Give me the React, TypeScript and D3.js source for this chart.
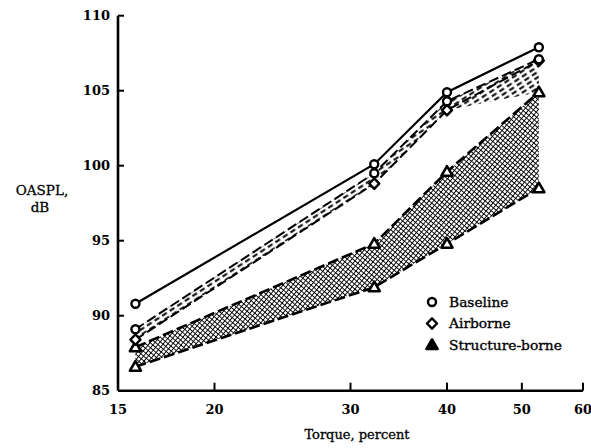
import React from "react";
import * as d3 from "d3";

// Torque, percent (log axis)
const torque = [15.8, 32.2, 40, 52.6];
// OASPL, dB
const baseline = [90.8, 100.1, 104.9, 107.9];
const baselineTreated = [89.1, 99.5, 104.3, 107.1];
const airborne = [88.4, 98.8, 103.7, 107.0];
const structureHigh = [87.9, 94.8, 99.6, 104.9];
const structureLow = [86.6, 91.9, 94.8, 98.5];

const xTicks = [15, 20, 30, 40, 50, 60];
const yTicks = [85, 90, 95, 100, 105, 110];
const legendItems = [
  { label: "Baseline", shape: "circle" },
  { label: "Airborne", shape: "diamond" },
  { label: "Structure-borne", shape: "triangle" },
];

const W = 591;
const H = 448;
const FONT = "'DejaVu Serif', 'Liberation Serif', serif";

function Marker({ shape, cx, cy, filled }: { shape: string; cx: number; cy: number; filled?: boolean }) {
  if (shape === "circle")
    return <circle cx={cx} cy={cy} r={4} fill="#fff" stroke="#000" strokeWidth={2.4} />;
  if (shape === "diamond")
    return (
      <path
        d={`M${cx},${cy - 5.2}L${cx + 5},${cy}L${cx},${cy + 5.2}L${cx - 5},${cy}Z`}
        fill="#fff"
        stroke="#000"
        strokeWidth={2.4}
        strokeLinejoin="round"
      />
    );
  return (
    <path
      d={`M${cx},${cy - 5.5}L${cx + 5.5},${cy + 4}L${cx - 5.5},${cy + 4}Z`}
      fill={filled ? "#000" : "#fff"}
      stroke="#000"
      strokeWidth={2.6}
      strokeLinejoin="round"
    />
  );
}

export default function App() {
  const x = d3.scaleLog().domain([15, 60]).range([118, 583]);
  const y = d3.scaleLinear().domain([85, 110]).range([390.7, 15.7]);

  const line = (vals: number[]) =>
    d3
      .line<number>()
      .x((_, i) => x(torque[i]))
      .y((v) => y(v))(vals) as string;

  const band = (upper: number[], lower: number[]) =>
    d3
      .area<number>()
      .x((_, i) => x(torque[i]))
      .y0((_, i) => y(lower[i]))
      .y1((v) => y(v))(upper) as string;

  const upperLower = [airborne[0], airborne[1], airborne[2], structureHigh[3]];

  const xAxisY = y(85);
  const yAxisX = x(15);

  return (
    <svg
      width={W}
      height={H}
      style={{ position: "absolute", left: 0, top: 0, background: "#fff" }}
      fontFamily={FONT}
    >
      <defs>
        <pattern id="cross" width={3.6} height={3.6} patternUnits="userSpaceOnUse" patternTransform="rotate(40)">
          <rect width={3.6} height={3.6} fill="#fff" />
          <rect x={0} y={0} width={3.6} height={0.9} fill="#000" />
          <rect x={0} y={0} width={0.9} height={3.6} fill="#000" />
        </pattern>
        <pattern id="dashes" width={9} height={4.5} patternUnits="userSpaceOnUse" patternTransform="rotate(-33)">
          <rect width={9} height={4.5} fill="#fff" />
          <rect x={0} y={1.2} width={5.5} height={2} fill="#000" />
        </pattern>
      </defs>

      {/* hatched bands */}
      <path d={band(baselineTreated, upperLower)} fill="url(#dashes)" />
      <path d={band(structureHigh, structureLow)} fill="url(#cross)" />

      {/* lines */}
      <path d={line(baseline)} fill="none" stroke="#000" strokeWidth={2.2} />
      <path d={line(baselineTreated)} fill="none" stroke="#000" strokeWidth={2} strokeDasharray="10 4" />
      <path d={line(airborne)} fill="none" stroke="#000" strokeWidth={2} strokeDasharray="10 4" />
      <path d={line(structureHigh)} fill="none" stroke="#000" strokeWidth={2.6} strokeDasharray="11 4" />
      <path d={line(structureLow)} fill="none" stroke="#000" strokeWidth={2.6} strokeDasharray="11 4" />

      {/* markers */}
      {structureLow.map((v, i) => (
        <Marker key={"sl" + i} shape="triangle" cx={x(torque[i])} cy={y(v)} />
      ))}
      {structureHigh.map((v, i) => (
        <Marker key={"sh" + i} shape="triangle" cx={x(torque[i])} cy={y(v)} />
      ))}
      {airborne.map((v, i) => (
        <Marker key={"a" + i} shape="diamond" cx={x(torque[i])} cy={y(v)} />
      ))}
      {baselineTreated.map((v, i) => (
        <Marker key={"bt" + i} shape="circle" cx={x(torque[i])} cy={y(v)} />
      ))}
      {baseline.map((v, i) => (
        <Marker key={"b" + i} shape="circle" cx={x(torque[i])} cy={y(v)} />
      ))}

      {/* axes */}
      <line x1={yAxisX} x2={yAxisX} y1={y(110)} y2={xAxisY} stroke="#000" strokeWidth={2.6} />
      <line x1={yAxisX} x2={x(60)} y1={xAxisY} y2={xAxisY} stroke="#000" strokeWidth={2.6} />
      {yTicks.map((t) => (
        <g key={"yt" + t}>
          {t > 85 && <line x1={yAxisX} x2={yAxisX + 6} y1={y(t)} y2={y(t)} stroke="#000" strokeWidth={2} />}
          <text x={yAxisX - 8} y={y(t)} dy="0.35em" textAnchor="end" fontSize={13} fontWeight="bold">
            {t}
          </text>
        </g>
      ))}
      {xTicks.map((t) => (
        <g key={"xt" + t}>
          {t > 15 && <line x1={x(t)} x2={x(t)} y1={xAxisY} y2={xAxisY - 8} stroke="#000" strokeWidth={2} />}
          <text x={x(t)} y={xAxisY + 23} textAnchor="middle" fontSize={13} fontWeight="bold">
            {t}
          </text>
        </g>
      ))}

      {/* axis titles */}
      <text x={357} y={439} textAnchor="middle" fontSize={13} stroke="#000" strokeWidth={0.3}>
        Torque, percent
      </text>
      <text x={42} y={195} textAnchor="middle" fontSize={13.5} stroke="#000" strokeWidth={0.3}>
        OASPL,
      </text>
      <text x={40} y={212} textAnchor="middle" fontSize={13.5} stroke="#000" strokeWidth={0.3}>
        dB
      </text>

      {/* legend */}
      {legendItems.map((it, i) => (
        <g key={it.label}>
          <Marker shape={it.shape} cx={432} cy={302 + i * 21.5} filled={it.shape === "triangle"} />
          <text x={449} y={302 + i * 21.5} dy="0.35em" fontSize={13.8} stroke="#000" strokeWidth={0.35}>
            {it.label}
          </text>
        </g>
      ))}
    </svg>
  );
}
